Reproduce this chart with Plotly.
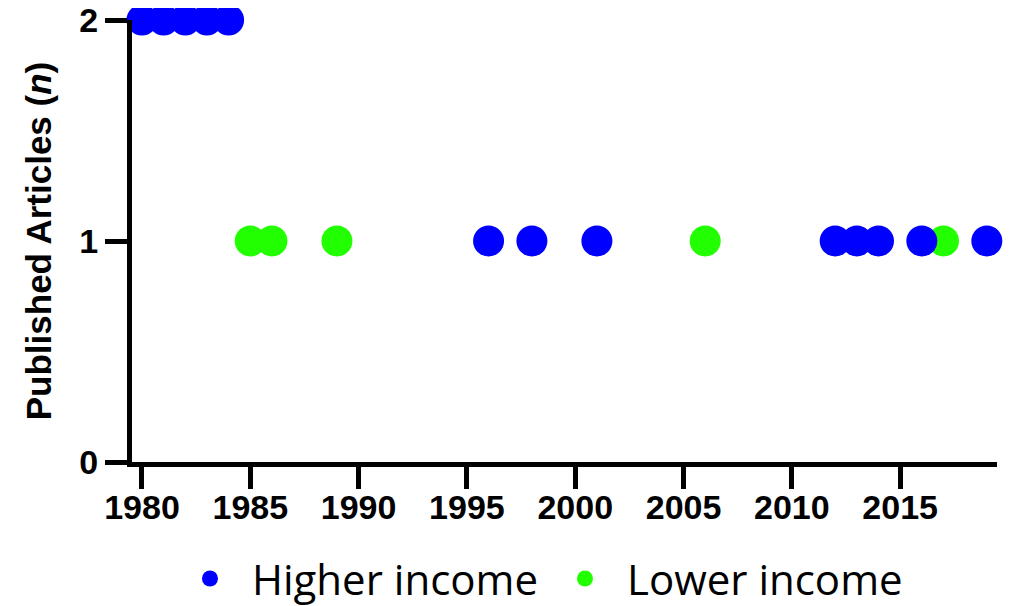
import plotly.graph_objects as go

higher_years = [1980, 1981, 1982, 1983, 1984, 1996, 1998, 2001, 2012, 2013, 2014, 2016, 2019]
higher_counts = [2, 2, 2, 2, 2, 1, 1, 1, 1, 1, 1, 1, 1]
lower_years = [1985, 1986, 1989, 2006, 2017]
lower_counts = [1, 1, 1, 1, 1]
x_ticks = [1980, 1985, 1990, 1995, 2000, 2005, 2010, 2015]
y_ticks = [0, 1, 2]

fig = go.Figure()
fig.add_trace(go.Scatter(
    x=lower_years, y=lower_counts, mode="markers", name="Lower income",
    marker=dict(color="#22FF00", size=31, line=dict(width=0)),
    cliponaxis=False, legendrank=2,
))
fig.add_trace(go.Scatter(
    x=higher_years, y=higher_counts, mode="markers", name="Higher income",
    marker=dict(color="#0000FF", size=31, line=dict(width=0)),
    cliponaxis=False, legendrank=1,
))

tickfont = dict(family="Liberation Sans, Arial, sans-serif", size=34, color="black", weight="bold")

fig.update_layout(
    width=1004, height=598,
    margin=dict(l=124, r=15, t=12, b=144, autoexpand=False),
    paper_bgcolor="white", plot_bgcolor="white",
    showlegend=True,
    legend=dict(
        orientation="h", x=0.0416, xanchor="left", y=-0.264, yanchor="middle",
        font=dict(family="Open Sans, Noto Sans, sans-serif", size=42, color="black"),
        itemsizing="trace", itemwidth=74, traceorder="normal",
        bgcolor="rgba(0,0,0,0)",
    ),
    xaxis=dict(
        range=[1979.54, 2019.47], tickvals=x_ticks, ticktext=[str(v) for v in x_ticks],
        showgrid=False, zeroline=False, showline=True, linecolor="black", linewidth=5,
        ticks="outside", ticklen=22, tickwidth=5, tickcolor="black",
        tickfont=tickfont, ticklabelstandoff=-11, automargin=False,
        ticklabeloverflow="allow",
    ),
    yaxis=dict(
        range=[0, 2], tickvals=y_ticks, ticktext=[str(v) for v in y_ticks],
        showgrid=False, zeroline=False, showline=True, linecolor="black", linewidth=5,
        ticks="outside", ticklen=22, tickwidth=5, tickcolor="black",
        tickfont=tickfont, ticklabelstandoff=0, automargin=False,
        ticklabeloverflow="allow",
        title=dict(text="Published Articles (<i>n</i>)",
                   font=dict(family="Liberation Sans, Arial, sans-serif", size=35, color="black", weight="bold"),
                   standoff=19),
    ),
)

fig.write_html("out.html")
